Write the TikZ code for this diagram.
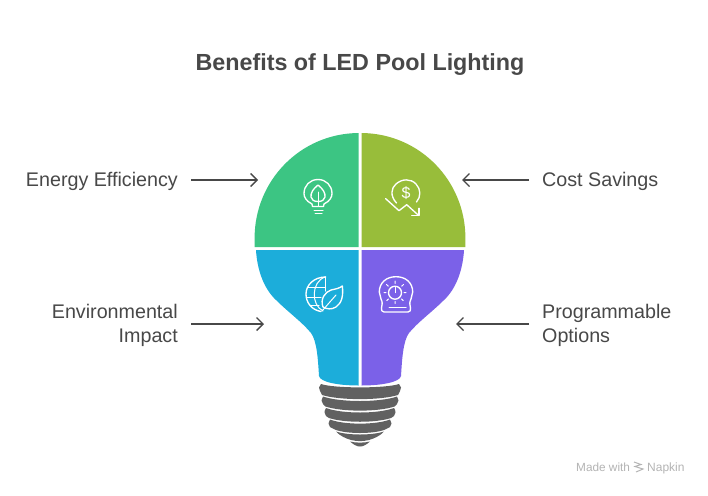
\documentclass[tikz,border=0pt]{standalone}
\usepackage{fontspec}
\setmainfont{Liberation Sans}
\usetikzlibrary{arrows.meta}
\definecolor{ink}{HTML}{484848}
\definecolor{cgreen}{HTML}{3CC583}
\definecolor{colive}{HTML}{98BD3A}
\definecolor{cblue}{HTML}{1CADDA}
\definecolor{cviolet}{HTML}{7B61E8}
\definecolor{cbase}{HTML}{616161}
\definecolor{cmark}{HTML}{B4B4B4}
\tikzset{
  x=1pt,y=-1pt,
  lab/.style={font=\fontsize{19.7}{24}\selectfont,text=ink,inner ysep=0pt},
  labl/.style={lab,anchor=east,align=right,inner xsep=13pt},
  labr/.style={lab,anchor=west,align=left,inner xsep=13pt},
  conn/.style={draw=ink,line width=1.4pt,-{Straight Barb[length=6.5pt,width=13pt,line width=1.4pt]}},
  ico/.style={draw=white,line width=1.35pt,line cap=round,line join=round},
  thin ico/.style={draw=white,line width=1pt,line cap=round,line join=round},
}
\begin{document}
\begin{tikzpicture}
\useasboundingbox[fill=white] (0,0) rectangle (708,495);
\node[font=\bfseries\fontsize{23.3}{28}\selectfont,text=ink] (title) at (360,65) {Benefits of LED Pool Lighting};

% bulb quadrants
\fill[cgreen] (358.5,133) .. controls (300,133.5) and (254.6,181) .. (254.6,238) -- (254.6,247) -- (358.5,247) -- cycle;
\fill[colive] (361.5,133) .. controls (420,133.5) and (465.4,181) .. (465.4,238) -- (465.4,247) -- (361.5,247) -- cycle;
\fill[cblue] (358.5,250) -- (256,250) .. controls (257,268) and (263,288) .. (276,300)
  .. controls (288,312) and (302,322) .. (311,333)
  .. controls (317,341) and (318,360) .. (319,376)
  .. controls (320,382) and (338,385.5) .. (358.5,385.5) -- cycle;
\fill[cviolet] (361.5,250) -- (464,250) .. controls (463,268) and (457,288) .. (444,300)
  .. controls (432,312) and (418,322) .. (409,333)
  .. controls (403,341) and (402,360) .. (401,376)
  .. controls (400,382) and (382,385.5) .. (361.5,385.5) -- cycle;

% screw base
\fill[cbase] (321,384) .. controls (334,388.5) and (386,388.5) .. (399,384)
  .. controls (401,386) and (402,389) .. (400,391) -- (398,395)
  .. controls (380,400.5) and (340,400.5) .. (322,395) -- (320,391) .. controls (318,389) and (319,386) .. (321,384) -- cycle;
\fill[cbase] (323,396.5) .. controls (340,402.5) and (380,402.5) .. (397,396.5)
  .. controls (399,399) and (399,402) .. (397,404) -- (394.5,406.5)
  .. controls (378,412) and (342,412) .. (325.5,406.5) -- (323,404) .. controls (321,402) and (321,399) .. (323,396.5) -- cycle;
\fill[cbase] (326,408) .. controls (342,414) and (378,414) .. (394,408)
  .. controls (396,411) and (396,414) .. (394,416) -- (391,418)
  .. controls (376,423) and (344,423) .. (329,418) -- (326,416) .. controls (324,414) and (324,411) .. (326,408) -- cycle;
\fill[cbase] (330,419.5) .. controls (344,425) and (376,425) .. (390,419.5)
  .. controls (392,422) and (392,425) .. (390,427) -- (384,430)
  .. controls (372,434) and (348,434) .. (336,430) -- (330,427) .. controls (328,425) and (328,422) .. (330,419.5) -- cycle;
\fill[cbase] (336,431.5) .. controls (348,435.5) and (372,435.5) .. (384,431.5)
  .. controls (380,436) and (374,438.5) .. (369,440) .. controls (362,441.5) and (358,441.5) .. (351,440)
  .. controls (346,438.5) and (340,436) .. (336,431.5) -- cycle;
\fill[cbase] (350,441.5) .. controls (356,443) and (364,443) .. (370,441.5)
  .. controls (366,445) and (363,446.5) .. (360,446.5) .. controls (357,446.5) and (354,445) .. (350,441.5) -- cycle;

% icon: bulb with leaf
\draw[ico] (312.5,206.5) -- (312,204) .. controls (306,201) and (304,197) .. (304,193.5)
  .. controls (304,185.5) and (310,179.5) .. (318,179.5) .. controls (326,179.5) and (332,185.5) .. (332,193.5)
  .. controls (332,197) and (330,201) .. (324,204) -- (323.5,206.5) -- cycle;
\draw[thin ico] (314,210) -- (323,210) (315,213.5) -- (322,213.5);
\draw[ico] (318,185) .. controls (313,189) and (310.5,193) .. (311,197) .. controls (311.5,200) and (314,201.5) .. (318,201.5)
  .. controls (322,201.5) and (324.5,200) .. (325,197) .. controls (325.5,193) and (323,189) .. (318,185) -- cycle;
\draw[thin ico] (318,192) -- (318,206);

% icon: falling dollar
\draw[ico] (396.5,203) .. controls (390,196) and (391,188) .. (396,184) .. controls (402,178.5) and (411,178.5) .. (416,184) .. controls (421,189) and (421,197) .. (416.5,202);
\node[text=white,font=\fontsize{16}{16}\selectfont,inner sep=0pt] (dollar) at (406,193.5) {\$};
\draw[ico] (385.7,198.7) -- (399,210.7) -- (406.7,204.7) -- (418.7,215.5);
\draw[ico] (411.7,215.7) -- (419,215.7) -- (419,208.3);

% icon: globe and leaf
\draw[ico] (325.7,277) .. controls (314,277) and (306,285) .. (306,294) .. controls (306,303) and (312,310) .. (321,311.5);
\draw[ico] (325.7,277) -- (325.7,291);
\draw[thin ico] (325,277) .. controls (311,282) and (311,305) .. (323,311);
\draw[thin ico] (308,287) -- (325.7,287) (306.5,297) -- (321,297) (310,305.5) -- (319,305.5);
\draw[ico] (323,307) .. controls (320,299) and (325,292) .. (331,290) .. controls (336,289) and (340,288) .. (342.3,286)
  .. controls (343.5,295) and (342,303) .. (336,307) .. controls (331,310) and (327,309) .. (323,307) -- cycle;
\draw[thin ico] (322,311) -- (336,295);

% icon: dial
\draw[ico] (384,312) .. controls (381.5,312) and (381.5,310) .. (381.5,308) .. controls (382,304) and (383,303) .. (381,299)
  .. controls (379.5,296) and (379.3,295) .. (379.3,292) .. controls (379.3,283) and (386,276.7) .. (396,276.7)
  .. controls (406,276.7) and (412.7,283) .. (412.7,292) .. controls (412.7,295) and (412.5,296) .. (411,299)
  .. controls (409,303) and (410,304) .. (410.5,308) .. controls (410.5,310) and (410.5,312) .. (408,312) -- cycle;
\draw[ico] (395,292.7) circle[radius=6.5];
\draw[thin ico] (395,292.7) -- (395,287);
\draw[thin ico] (395,281) -- (395,283.5) (386.5,284.5) -- (388.3,286.2) (403.5,284.5) -- (401.7,286.2)
  (384,292.7) -- (386,292.7) (404,292.7) -- (406,292.7) (386.8,300.5) -- (388.5,299) (403.2,300.5) -- (401.5,299) (395,301.5) -- (395,303.5);
\draw[thin ico] (389,307.7) -- (406,307.7);

% labels
\node[labl] (energy) at (191,181) {Energy Efficiency};
\node[labr] (cost) at (529,181) {Cost Savings};
\node[labl] (env) at (191,325) {Environmental\\Impact};
\node[labr] (prog) at (529,325) {Programmable\\Options};

\coordinate (egoal) at (258,180);
\coordinate (cgoal) at (462,180);
\coordinate (vgoal) at (264,324);
\coordinate (pgoal) at (456,324);
\draw[conn] (energy.east |- egoal) -- (egoal);
\draw[conn] (cost.west |- cgoal) -- (cgoal);
\draw[conn] (env.east |- vgoal) -- (vgoal);
\draw[conn] (prog.west |- pgoal) -- (pgoal);

% watermark
\node[font=\fontsize{11.8}{13}\selectfont,text=cmark,anchor=base west,inner sep=0pt] (made) at (576,471.5) {Made with};
\node[font=\fontsize{12}{13}\selectfont,text=cmark,anchor=base west,inner sep=0pt] (napkin) at (647,471.5) {Napkin};
\draw[cmark,line width=1pt] (634,462) -- (641,464.5) -- (635,466.5) -- (643,469) -- (636,472);
\end{tikzpicture}
\end{document}
